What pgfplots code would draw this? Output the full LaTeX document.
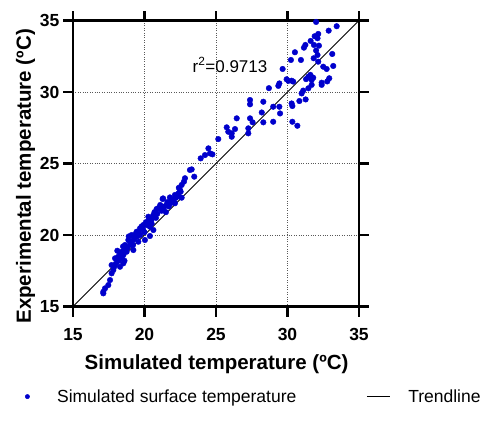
\documentclass[border=0pt]{standalone}
\usepackage{pgfplots}
\pgfplotsset{compat=1.18}
\usepackage{fontspec}
\setmainfont{Liberation Sans}
\definecolor{dotblue}{RGB}{0,0,204}
\pgfplotsset{
  mylineleg/.style={legend image code/.code={\draw[##1] (0pt,0pt) -- (23pt,0pt);}},
  mydotleg/.style={legend image code/.code={\draw[##1, mark size=2.2pt] plot coordinates {(8.5pt,0pt)}; \path (0pt,0pt) (20pt,0pt);}}
}
\begin{document}
\begin{tikzpicture}
\begin{axis}[
  scale only axis, width=286pt, height=286pt,
  xmin=15, xmax=35, ymin=15, ymax=35,
  xtick={15,20,25,30,35}, ytick={15,20,25,30,35},
  xtick pos=left, ytick pos=left,
  tick align=outside, major tick length=10pt,
  tick style={draw=none},
  axis line style={line width=2.6pt},
  grid=major, major grid style={dotted, gray!70!black, line width=0.8pt},
  /pgf/number format/assume math mode=true,
  tick label style={font=\fontsize{17.5}{20}\selectfont\bfseries},
  xticklabel style={yshift=-8pt},
  label style={font=\fontsize{20.5}{24}\selectfont\bfseries},
  xlabel={Simulated temperature (ºC)},
  ylabel={Experimental temperature (ºC)},
  xlabel style={at={(axis description cs:0.502,-0.2)}, anchor=center},
  ylabel style={at={(axis description cs:-0.166,0.455)}, anchor=center},
  clip=false,
  legend columns=2,
  legend style={at={(axis description cs:-0.1905,-0.315)}, anchor=west, draw=none, fill=none,
    font=\fontsize{17.5}{20}\selectfont, inner sep=0pt,
    /tikz/every odd column/.append style={column sep=16pt},
    /tikz/every even column/.append style={column sep=68pt}},
]
\addplot[only marks, mark=*, mark size=2.8pt, color=dotblue, mydotleg] coordinates {
(32.0,34.9) (32.88,34.29) (33.44,34.6) (32.15,34.06) (32.1,33.76) (31.62,33.57)
(31.25,33.29) (31.85,33.29) (32.2,33.24) (31.15,33.1) (30.52,32.78) (32.1,32.59)
(33.13,32.66) (31.83,32.36) (30.24,32.24) (30.94,32.24) (32.15,32.12) (32.5,31.77)
(32.74,31.61) (33.2,31.82) (29.66,31.61) (29.94,30.89) (30.29,30.79) (31.46,31.07)
(31.69,30.84) (32.39,30.65) (32.92,30.96) (29.43,30.6) (28.7,30.27) (29.36,30.43)
(30.06,30.78) (30.4,30.73) (30.99,29.9) (31.1,30.1) (31.46,30.26) (31.69,30.5)
(32.39,30.5) (32.78,30.74) (27.38,29.44) (27.38,29.14) (28.31,29.32) (29.0,28.97)
(29.43,28.97) (29.48,28.5) (30.29,29.2) (30.34,29.02) (30.83,29.37) (31.27,29.48)
(28.2,28.57) (27.38,28.16) (27.56,27.88) (28.31,27.88) (29.0,27.92) (30.34,27.92)
(30.69,27.64) (27.26,27.46) (27.26,27.11) (26.45,28.16) (25.75,27.53) (25.86,27.22)
(26.1,27.11) (26.33,27.41) (26.1,26.87) (25.16,26.71) (24.47,26.06) (24.58,25.71)
(24.23,25.59) (23.93,25.36) (24.75,25.64) (23.3,24.59) (23.18,24.55) (23.48,24.08)
(22.83,23.97) (22.76,23.73) (22.6,23.5) (22.48,23.15) (22.36,22.9) (22.13,22.8)
(21.78,22.63) (21.3,22.56) (31.3,30.9) (31.6,31.2) (31.8,31.0) (32.0,32.9) (31.9,33.9)
(22.53,23.03) (22.36,22.73) (21.27,22.52) (21.9,22.45) (22.6,22.61) (22.13,22.22)
(20.85,21.82) (21.55,22.1) (20.27,21.28) (20.62,21.4) (20.34,20.93) (19.92,20.7)
(20.15,20.7) (19.69,20.47) (19.45,20.23) (20.38,20.58) (20.62,20.35) (20.38,19.93)
(19.1,20.0) (18.87,19.65) (19.22,19.65) (19.57,19.53) (18.64,19.3) (18.99,19.3)
(18.75,18.83) (18.4,18.83) (19.22,18.95) (18.17,18.48) (17.94,18.37) (18.05,18.37)
(18.52,18.6) (18.52,18.02) (18.29,17.78) (17.82,17.55) (17.7,17.32) (17.59,16.85)
(17.47,16.5) (17.24,16.27) (17.12,16.03) (17.12,15.92) (20.03,19.65)
(21.0,21.9) (21.2,21.7) (21.4,22.0) (21.6,22.3) (21.8,22.2) (22.0,22.5) (22.2,22.6)
(22.4,23.3) (21.1,22.1) (20.9,21.5) (20.7,21.6) (20.5,21.1) (20.3,21.0) (20.1,20.9)
(19.9,20.4) (19.8,20.6) (19.6,20.2) (19.5,19.9) (19.3,19.8) (19.4,20.1) (19.0,19.5)
(18.9,19.9) (19.2,19.3) (18.8,19.1) (18.6,18.9) (18.5,19.2) (18.3,18.7) (18.1,18.9)
(18.0,18.0) (18.2,18.2) (17.9,17.8) (17.7,17.9) (18.4,18.4) (18.6,18.2) (19.7,20.0)
(20.0,20.2) (20.5,20.8) (20.8,21.2) (21.3,21.8) (21.5,21.6) (21.7,22.0)
};
\addlegendentry{Simulated surface temperature}
\addplot[black, line width=0.9pt, mylineleg] coordinates {(15,15) (35,35)};
\addlegendentry{Trendline}
\node[font=\fontsize{17}{20}\selectfont] at (axis cs:25.98,31.89) {r\textsuperscript{2}=0.9713};
\draw[black, line width=2.6pt, line cap=rect] (rel axis cs:0,0) rectangle (rel axis cs:1,1);
\pgfplotsinvokeforeach{0,0.25,0.5,0.75,1}{
  \draw[black, line width=2.6pt] (rel axis cs:#1,0) -- ++(0pt,-10pt);
  \draw[black, line width=2.6pt] (rel axis cs:#1,1) -- ++(0pt,10pt);
  \draw[black, line width=2.6pt] (rel axis cs:0,#1) -- ++(-10pt,0pt);
  \draw[black, line width=2.6pt] (rel axis cs:1,#1) -- ++(10pt,0pt);
}
\coordinate (bbA) at (rel axis cs:-0.2552,1.0717);
\coordinate (bbB) at (rel axis cs:1.4336,-0.4388);
\end{axis}
\path (bbA) rectangle (bbB);
\end{tikzpicture}
\end{document}
